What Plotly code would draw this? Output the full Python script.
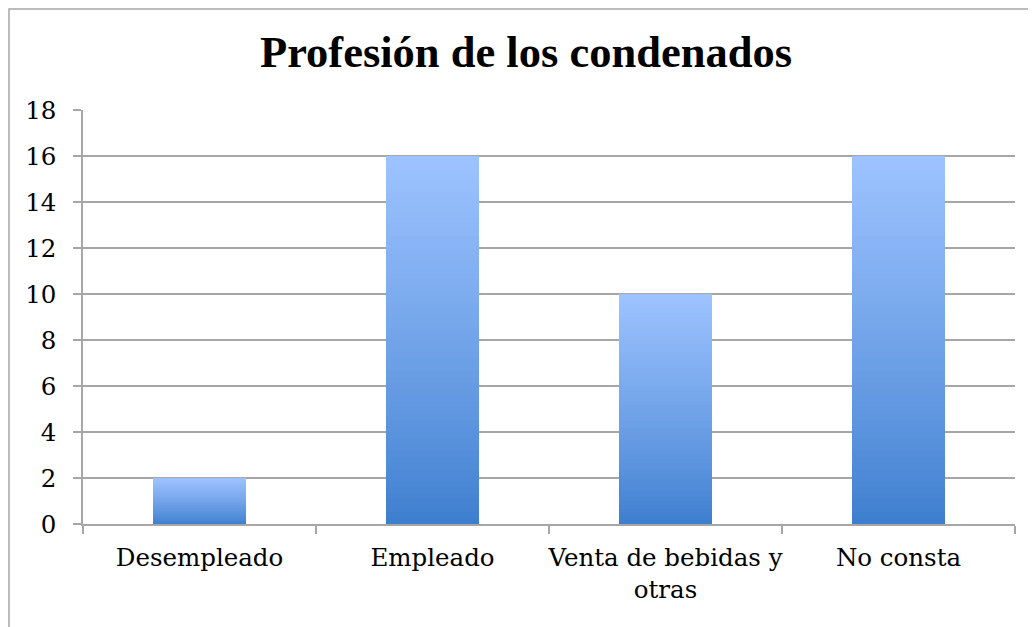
import plotly.graph_objects as go

categorias = ["Desempleado", "Empleado", "Venta de bebidas y<br>otras", "No consta"]
valores = [2, 16, 10, 16]
titulo = "Profesión de los condenados"

# degradado vertical de cada barra: oscuro abajo, claro arriba
color_abajo = (0x3C, 0x7D, 0xCE)
color_arriba = (0x9D, 0xC3, 0xFF)
n_tramos = 60

def mezcla(t):
    t = t ** 0.85
    r, g, b = [round(a + (c - a) * t) for a, c in zip(color_abajo, color_arriba)]
    return f"rgb({r},{g},{b})"

fig = go.Figure()
for k in range(n_tramos):
    fig.add_bar(
        x=categorias,
        y=[v / n_tramos for v in valores],
        marker_color=mezcla((k + 0.5) / n_tramos),
        marker_line_width=0,
        showlegend=False,
        hoverinfo="skip",
    )

# la página tiene 8 px de margen en el body, así que todo se desplaza 8 px
fig.update_layout(
    width=1036, height=627,
    margin=dict(l=75, r=29, t=102, b=111),
    barmode="stack",
    bargap=0.6,
    paper_bgcolor="white",
    plot_bgcolor="white",
    font=dict(family="DejaVu Serif", size=24.5, color="black"),
    title=dict(text="<b>" + titulo + "</b>", x=0.5, xanchor="center",
               y=0.931, yanchor="middle",
               font=dict(family="Liberation Serif", size=44.5)),
    xaxis=dict(
        showline=True, linecolor="#A6A6A6", linewidth=1.5,
        ticks="outside", tickson="boundaries", ticklen=8, tickcolor="#A6A6A6",
        tickwidth=1.5, showgrid=False, ticklabelstandoff=11,
        tickangle=0, automargin=False,
    ),
    yaxis=dict(
        range=[0, 18], dtick=2, showline=True, linecolor="#A6A6A6", linewidth=1.5,
        ticks="outside", ticklen=8, tickcolor="#A6A6A6", tickwidth=1.5,
        showgrid=True, gridcolor="#A6A6A6", gridwidth=1.5, zeroline=False,
        ticklabelstandoff=12, automargin=False,
    ),
    shapes=[dict(type="rect", xref="paper", yref="paper",
                 x0=-0.0794, x1=1.03, y0=-0.3, y1=1.244,
                 line=dict(color="#A6A6A6", width=1.5), layer="below")],
)

fig.write_html("out.html")
